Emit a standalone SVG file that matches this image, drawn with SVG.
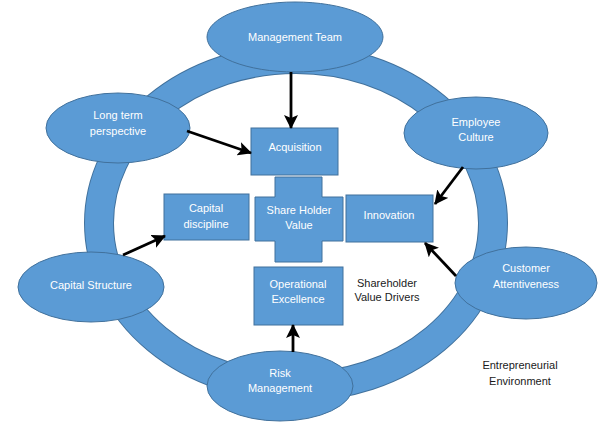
<svg xmlns="http://www.w3.org/2000/svg" width="601" height="423" viewBox="0 0 601 423">
<defs>
<style>
.n{fill:#5B9BD5;stroke:#41719C;stroke-width:1}
.t{font-family:"Liberation Sans",Arial,sans-serif;font-size:11px;fill:#fff;text-anchor:middle}
.k{font-family:"Liberation Sans",Arial,sans-serif;font-size:11px;fill:#1a1a1a;text-anchor:middle}
.a{stroke:#000;stroke-width:2.8;fill:none;marker-end:url(#ah)}
</style>
<marker id="ah" markerUnits="userSpaceOnUse" markerWidth="14" markerHeight="14" viewBox="0 0 14 14" refX="13" refY="7" orient="auto">
<path d="M0,0 L14,7 L0,14 L3,7 Z" fill="#000"/>
</marker>
</defs>
<rect width="601" height="423" fill="#fff"/>
<g id="ring">
<ellipse cx="296" cy="223" rx="197" ry="164" fill="none" stroke="#41719C" stroke-width="30"/>
<ellipse cx="296" cy="223" rx="197" ry="164" fill="none" stroke="#5B9BD5" stroke-width="28"/>
</g>
<g id="management-team"><ellipse class="n" cx="295" cy="37" rx="88" ry="35"/><text class="t" x="295" y="41">Management Team</text></g>
<g id="long-term"><ellipse class="n" cx="118" cy="128" rx="72" ry="35"/><text class="t" x="118" y="119">Long term</text><text class="t" x="118" y="135">perspective</text></g>
<g id="employee-culture"><ellipse class="n" cx="476" cy="133" rx="72" ry="36"/><text class="t" x="476" y="126">Employee</text><text class="t" x="476" y="141">Culture</text></g>
<g id="customer-attentiveness"><ellipse class="n" cx="526" cy="283" rx="71" ry="36"/><text class="t" x="526" y="272">Customer</text><text class="t" x="526" y="288">Attentiveness</text></g>
<g id="capital-structure"><ellipse class="n" cx="91" cy="287" rx="73" ry="35"/><text class="t" x="91" y="289">Capital Structure</text></g>
<g id="risk-management"><ellipse class="n" cx="280" cy="386" rx="73" ry="35"/><text class="t" x="280" y="377">Risk</text><text class="t" x="280" y="392">Management</text></g>
<g id="acquisition"><rect class="n" x="251" y="128" width="87" height="47"/><text class="t" x="295" y="151">Acquisition</text></g>
<g id="share-holder-value"><path class="n" d="M275,177 H322 V197 H343 V241 H322 V262 H275 V241 H255 V197 H275 Z"/><text class="t" x="299" y="214">Share Holder</text><text class="t" x="299" y="229">Value</text></g>
<g id="innovation"><rect class="n" x="346" y="195" width="87" height="47"/><text class="t" x="389" y="219">Innovation</text></g>
<g id="capital-discipline"><rect class="n" x="164" y="194" width="85" height="46"/><text class="t" x="206" y="212">Capital</text><text class="t" x="206" y="228">discipline</text></g>
<g id="operational-excellence"><rect class="n" x="254" y="267" width="89" height="58"/><text class="t" x="298" y="288">Operational</text><text class="t" x="298" y="303">Excellence</text></g>
<g id="labels">
<text class="k" x="387" y="287">Shareholder</text><text class="k" x="387" y="301">Value Drivers</text>
<text class="k" x="520" y="369">Entrepreneurial</text><text class="k" x="520" y="385">Environment</text>
</g>
<g id="connectors">
<line class="a" x1="291" y1="72" x2="291" y2="128"/>
<line class="a" x1="187" y1="131" x2="251" y2="153"/>
<line class="a" x1="463" y1="167" x2="435" y2="204"/>
<line class="a" x1="456" y1="276" x2="425" y2="243"/>
<line class="a" x1="123" y1="255" x2="165" y2="236"/>
<line class="a" x1="293" y1="352" x2="293" y2="325"/>
</g>
</svg>
